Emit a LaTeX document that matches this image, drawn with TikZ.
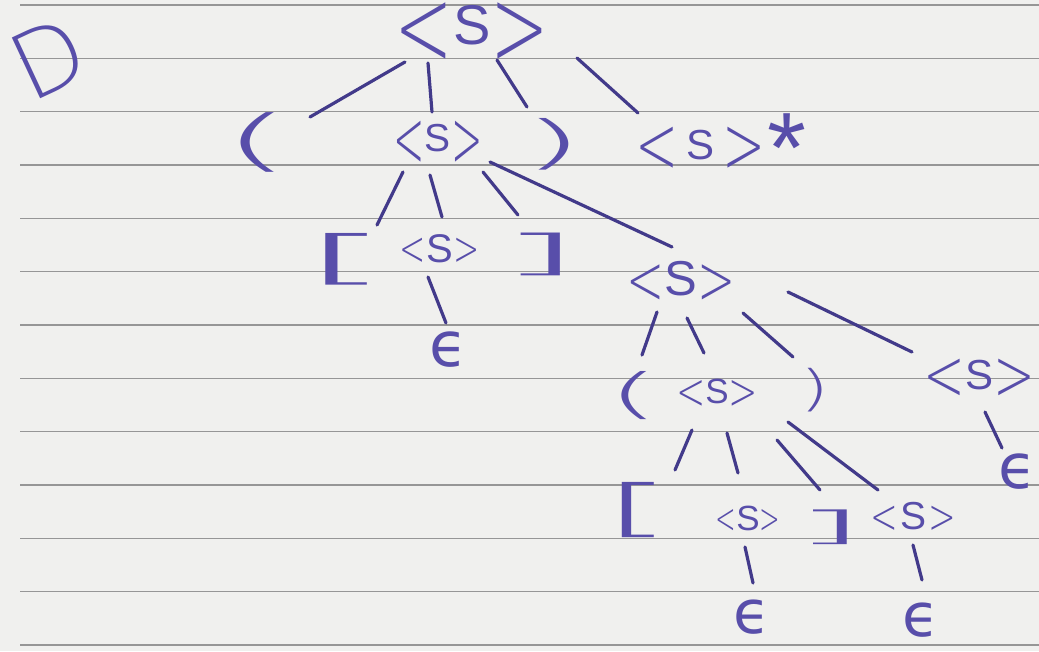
\documentclass[tikz,border=0pt]{standalone}
\usepackage{fontspec}
\usepackage{graphicx}
\setmainfont{Liberation Sans}
\newfontfamily\epsfont{DejaVu Sans}
\IfFontExistsTF{DejaVu Sans ExtraLight}{\newfontfamily\thinfont{DejaVu Sans ExtraLight}}{\newfontfamily\thinfont{Liberation Sans}}
\definecolor{ink}{RGB}{88,78,170}
\definecolor{inkdark}{RGB}{66,58,138}
\definecolor{paper}{RGB}{240,240,238}
\definecolor{rulecol}{RGB}{150,150,150}
% <S> : #1 size of S, #2 size of < >, #3 horizontal scale of < >, #4 kern, #5 drop of < >
\newcommand\NT[5]{{\thinfont\fontsize{#2}{#2}\selectfont\raisebox{-#5}{\scalebox{#3}[1.48]{<}}}\kern#4{\fontsize{#1}{#1}\selectfont S}\kern#4{\thinfont\fontsize{#2}{#2}\selectfont\raisebox{-#5}{\scalebox{#3}[1.48]{>}}}}
\newcommand\GL[3]{{\thinfont\fontsize{#1}{#1}\selectfont\scalebox{#2}[1]{#3}}}
\newcommand\EPS[1]{{\epsfont\fontsize{#1}{#1}\selectfont ϵ}}
\begin{document}
\begin{tikzpicture}[x=1pt,y=-1pt,
  sym/.style={inner sep=0pt, text=ink},
  edge/.style={draw=inkdark, line width=3.2pt, line cap=round}]
\fill[paper] (0,0) rectangle (1039,651);
\useasboundingbox (0,0) rectangle (1039,651);
\foreach \k in {0,...,12} \draw[rulecol, line width=1.3pt] (20,{5+53.33*\k}) -- (1039,{5+53.33*\k});
% label
\node[sym, rotate=25] (lab) at (48,58) {\thinfont\fontsize{92pt}{92pt}\selectfont D};
% nodes
\node[sym] (root) at (472,35) {\NT{56pt}{77pt}{0.91}{0pt}{22pt}};
\node[sym] (lp)   at (257,142) {\GL{67pt}{2.8}{(}};
\node[sym] (n2)   at (438,144) {\NT{39pt}{56pt}{0.67}{0.5pt}{15.9pt}};
\node[sym] (rp)   at (553,144) {\GL{58pt}{2.9}{)}};
\node[sym, anchor=base west] (n1s) at (635,159) {\NT{42pt}{56pt}{0.92}{8pt}{14.9pt}\kern2pt\raisebox{-23pt}{\fontsize{100pt}{100pt}\selectfont *}};
\node[sym] (lb2)  at (346,259) {\GL{58pt}{4.3}{[}};
\node[sym] (n3)   at (440,250) {\NT{40pt}{33pt}{0.95}{0.5pt}{3.3pt}};
\node[sym] (rb2)  at (540,254) {\GL{48pt}{4.9}{]}};
\node[sym] (e1)   at (449,350) {\EPS{62pt}};
\node[sym] (n4)   at (681,283) {\NT{49pt}{48pt}{0.95}{0pt}{8.3pt}};
\node[sym] (lp4)  at (634,396) {\GL{54pt}{2.6}{(}};
\node[sym] (n5)   at (717,394) {\NT{35pt}{35pt}{1.0}{0pt}{6.1pt}};
\node[sym] (rp4)  at (815,390) {\GL{49pt}{1.6}{)}};
\node[sym] (n6)   at (979,380) {\NT{42pt}{50pt}{1.0}{0pt}{11.7pt}};
\node[sym] (e2)   at (1018,472) {\EPS{62pt}};
\node[sym] (lb5)  at (638,510) {\GL{62pt}{3.1}{[}};
\node[sym] (n7)   at (748,520) {\NT{35pt}{29pt}{0.85}{0pt}{3pt}};
\node[sym] (rb5)  at (830,527) {\GL{39pt}{5.2}{]}};
\node[sym] (n8)   at (913,518) {\NT{39pt}{33pt}{1.0}{2pt}{3.7pt}};
\node[sym] (e3)   at (752,617) {\EPS{60pt}};
\node[sym] (e4)   at (921,620) {\EPS{60pt}};
% edges (end points placed relative to the named nodes)
\draw[edge] ([shift={(-67,27)}]root.center) -- ([shift={(53,-25)}]lp.center);
\draw[edge] ([shift={(-44,28)}]root.center) -- ([shift={(-6,-32)}]n2.center);
\draw[edge] ([shift={(25,25)}]root.center) -- ([shift={(-26,-37)}]rp.center);
\draw[edge] ([shift={(105,23)}]root.center) -- ([shift={(3,-46)}]n1s.base west);
\draw[edge] ([shift={(-35,28)}]n2.center) -- ([shift={(31,-34)}]lb2.center);
\draw[edge] ([shift={(-8,31)}]n2.center) -- ([shift={(2,-33)}]n3.center);
\draw[edge] ([shift={(45,28)}]n2.center) -- ([shift={(-22,-39)}]rb2.center);
\draw[edge] ([shift={(52,18)}]n2.center) -- ([shift={(-9,-36)}]n4.center);
\draw[edge] ([shift={(-12,27)}]n3.center) -- ([shift={(-3,-27)}]e1.center);
\draw[edge] ([shift={(-24,29)}]n4.center) -- ([shift={(8,-41)}]lp4.center);
\draw[edge] ([shift={(6,35)}]n4.center) -- ([shift={(-13,-41)}]n5.center);
\draw[edge] ([shift={(62,30)}]n4.center) -- ([shift={(-22,-33)}]rp4.center);
\draw[edge] ([shift={(107,9)}]n4.center) -- ([shift={(-67,-28)}]n6.center);
\draw[edge] ([shift={(6,32)}]n6.center) -- ([shift={(-16,-24)}]e2.center);
\draw[edge] ([shift={(-25,36)}]n5.center) -- ([shift={(37,-40)}]lb5.center);
\draw[edge] ([shift={(10,39)}]n5.center) -- ([shift={(-10,-47)}]n7.center);
\draw[edge] ([shift={(60,46)}]n5.center) -- ([shift={(-10,-37)}]rb5.center);
\draw[edge] ([shift={(71,28)}]n5.center) -- ([shift={(-35,-28)}]n8.center);
\draw[edge] ([shift={(-3,27)}]n7.center) -- ([shift={(1,-34)}]e3.center);
\draw[edge] ([shift={(0,27)}]n8.center) -- ([shift={(1,-40)}]e4.center);
\end{tikzpicture}
\end{document}
